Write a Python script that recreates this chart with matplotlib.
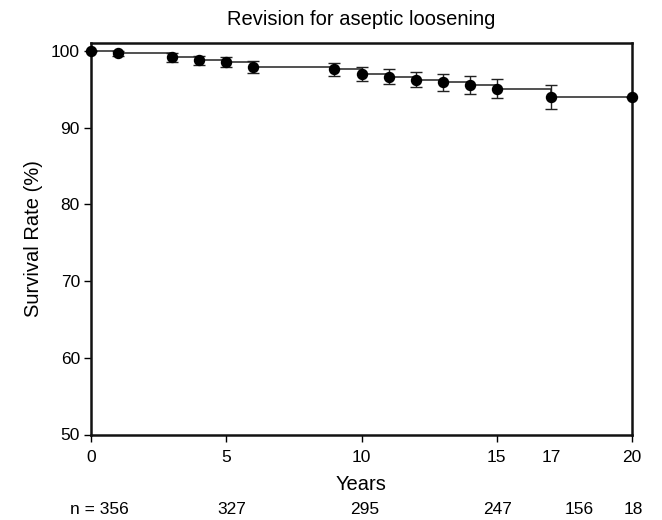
import matplotlib
matplotlib.use("Agg")
import matplotlib.pyplot as plt
from matplotlib.transforms import blended_transform_factory

plt.rcParams['font.family'] = ['Liberation Sans', 'DejaVu Sans']

years = [0, 1, 3, 4, 5, 6, 9, 10, 11, 12, 13, 14, 15, 17, 20]
survival = [100.0, 99.7, 99.15, 98.8, 98.5, 97.9, 97.6, 96.95, 96.65, 96.25,
            95.9, 95.6, 95.1, 94.0, 94.0]
err = [0.0, 0.3, 0.55, 0.6, 0.65, 0.75, 0.85, 0.9, 1.0, 1.0, 1.1, 1.2, 1.2, 1.5, 0.0]

xtick_vals = [0, 5, 10, 15, 17, 20]
xtick_no_mark = [17]
ytick_vals = [50, 60, 70, 80, 90, 100]

n_years = [0, 5, 10, 15, 18, 20]
n_labels = ["n = 356", "327", "295", "247", "156", "18"]
n_offsets = [8, 6, 3, 1, 1, 1]  # pixel nudges

fig = plt.figure(figsize=(6.62, 5.2), dpi=100)
ax = fig.add_axes([91/662, 1-434.5/520, (632-91)/662, (434.5-43.3)/520])

ax.step(years, survival, where='post', color='#333333', lw=1.2, zorder=2)
ax.errorbar(years, survival, yerr=err, fmt='none', ecolor='#222222',
            elinewidth=1.0, capsize=4.5, capthick=1.0, zorder=3)
ax.plot(years, survival, 'o', color='black', markersize=7.2, zorder=4,
        clip_on=False)

ax.set_xlim(0, 20)
ax.set_ylim(50, 101)
ax.set_xticks(xtick_vals)
ax.set_xticklabels([str(v) for v in xtick_vals])
ax.tick_params(axis='x', direction='out', length=5, width=1, labelsize=12.5, pad=6)
for v, t in zip(xtick_vals, ax.xaxis.get_major_ticks()):
    if v in xtick_no_mark:
        t.tick1line.set_visible(False)
ax.set_yticks(ytick_vals)
ax.set_yticklabels([str(v) for v in ytick_vals])
ax.tick_params(axis='y', direction='out', length=5, width=1, labelsize=12.5, pad=3)

for s in ax.spines.values():
    s.set_linewidth(1.8)
    s.set_color('#111111')

ax.set_title("Revision for aseptic loosening", fontsize=14.5, pad=13)
ax.set_ylabel("Survival Rate (%)", fontsize=14.5, labelpad=6)
ax.set_xlabel("Years", fontsize=14.5, labelpad=7)

trans = blended_transform_factory(ax.transData, fig.transFigure)
for x, lab, dx in zip(n_years, n_labels, n_offsets):
    ax.annotate(lab, xy=(x, 1-510/520), xycoords=trans, xytext=(dx, 0),
                textcoords='offset pixels', ha='center', va='center',
                fontsize=12.5, annotation_clip=False)

fig.savefig("out.png", dpi=100)
